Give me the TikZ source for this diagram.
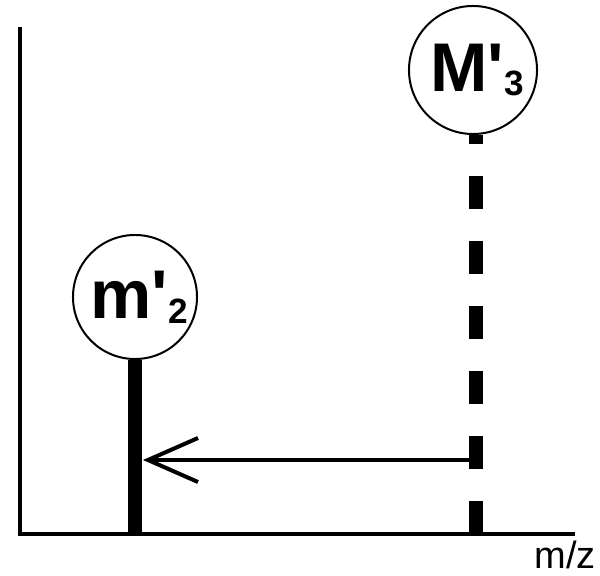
\documentclass[tikz,border=0pt]{standalone}
\usepackage{fontspec}
\setmainfont{Liberation Sans}
\usetikzlibrary{arrows.meta}

\newcommand{\ionsub}[1]{\raisebox{-3.5pt}{\fontsize{25}{27}\selectfont #1}}

\begin{document}
\begin{tikzpicture}[x=0.025cm, y=0.025cm,
        ion/.style={draw, circle, line width=0.05cm, fill=white, inner sep=0pt,
                    font=\bfseries\fontsize{49}{51}\selectfont},
        peak/.style={line width=0.35cm}]
        \useasboundingbox (0,0) rectangle (600,575);

        % Eixos
        \coordinate (top) at (20,548);
        \coordinate (origin) at (20,41);
        \coordinate (xend) at (575,41);
        \draw[line width=0.1cm] (top) -- (origin) -- (xend);
        \node[anchor=base, font=\fontsize{27}{30}\selectfont] (mz) at (565,7) {m/z};

        % Ions
        \node[ion, minimum size=3.1cm] (m2) at (135,278) {\kern6pt m\textquotesingle\ionsub{2}};
        \node[ion, minimum size=3.2cm] (M3) at (473,505) {\kern6pt M\textquotesingle\ionsub{3}};

        % Picos
        \coordinate (p2) at (135,41);
        \coordinate (p3) at (476,41);
        \draw[peak] (p2) -- (m2);
        \draw[peak, dash pattern=on 0.825cm off 0.8cm] (p3) -- (p3 |- M3.south);

        % Seta
        \coordinate (a3) at (476,115);
        \coordinate (a2) at (143,115);
        \draw[line width=0.1cm, -{Straight Barb[length=1.25cm, width=1.1cm]}] (a3) -- (a2);
    \end{tikzpicture}
\end{document}
